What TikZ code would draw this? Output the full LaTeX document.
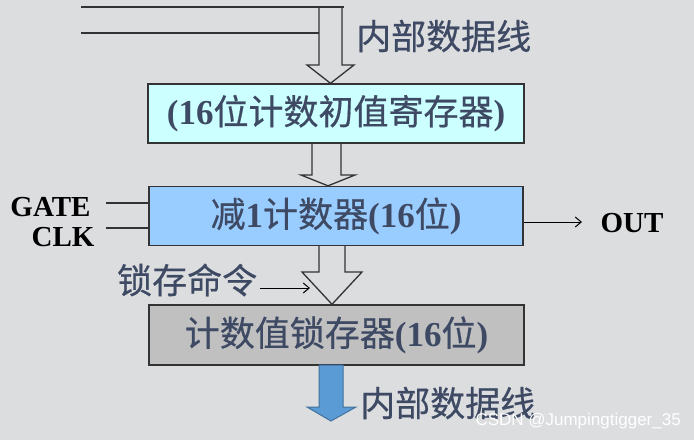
\documentclass[tikz,border=0pt]{standalone}
\usepackage{fontspec}
\setmainfont{Liberation Serif}
\newfontfamily\cjk[FakeBold=0.5]{Noto Sans CJK SC}
\newfontfamily\wmfont{Liberation Sans}
\usetikzlibrary{arrows.meta,calc}
\definecolor{bgc}{RGB}{220,221,223}
\definecolor{txt}{HTML}{3E4A64}
\definecolor{linec}{HTML}{333333}
\definecolor{boxa}{HTML}{CCFFFF}
\definecolor{boxb}{HTML}{99CCFF}
\definecolor{boxc}{HTML}{C0C0C0}
\definecolor{bluefill}{HTML}{5B9BD5}
\definecolor{blueline}{HTML}{41719C}
\newcommand\zh[1]{{\cjk\mdseries #1}}
\newcommand\bigtxt{\fontsize{35}{40}\selectfont\bfseries}
\newcommand\sigtxt{\fontsize{29}{34}\selectfont\bfseries}
\tikzset{
  regbox/.style={draw=linec, line width=1.4pt, inner sep=0pt, text=txt, font=\bigtxt},
  hollow/.style={draw=linec, line width=1.3pt, line join=miter},
  wire/.style={draw=linec, line width=1.3pt},
  sig/.style={text=black, font=\sigtxt, inner sep=0pt},
  lbl/.style={text=txt, font=\bigtxt, inner sep=0pt},
  thinarrow/.style={draw=black, line width=1pt, -{Straight Barb[length=6pt,width=10pt]}}
}
\begin{document}
\begin{tikzpicture}[x=1pt,y=-1pt]
\useasboundingbox (0,0) rectangle (694,440);
\fill[bgc] (0,0) rectangle (694,440);

% boxes
\node[regbox, fill=boxa, minimum width=376pt, minimum height=59pt] (init) at (336,113.5)
  {(16\zh{位计数初值寄存器})};
\node[regbox, fill=boxb, minimum width=374pt, minimum height=59pt] (cnt) at (336,216)
  {\zh{减}1\zh{计数器}(16\zh{位})};
\node[regbox, fill=boxc, minimum width=375pt, minimum height=60pt] (latch) at (336.5,335)
  {\zh{计数值锁存器}(16\zh{位})};

% top bus lines and hollow arrow into init
\coordinate (busA) at (81,7);
\coordinate (busB) at (81,33);
\draw[wire] (busA) -- (344,7);
\draw[wire] (busB) -- (319,33);
\draw[hollow] (319,7) -- (319,65) -- (307,65) -- (init.north -| 330.5,0) -- (354,65) -- (342,65) -- (342,7);
\node[lbl, anchor=west] (topbus) at (356,36) {\zh{内部数据线}};

% hollow arrow init -> cnt
\draw[hollow] (312,143) -- (312,175) -- (301,175) -- (cnt.north -| 328,0) -- (355,175) -- (341,175) -- (341,143);

% hollow arrow cnt -> latch
\draw[hollow] (319,246) -- (319,272) -- (302,272) -- (latch.north -| 332,0) -- (362,272) -- (345,272) -- (345,246);

% latch command
\node[lbl, anchor=west] (cmd) at (117,280) {\zh{锁存命令}};
\coordinate (cmdtip) at (310,288);
\draw[thinarrow] (cmd.east |- cmdtip) ++(3,0) -- (cmdtip);

% GATE / CLK
\node[sig] (gate) at (50.5,207) {GATE};
\node[sig] (clk) at (63,237) {CLK};
\coordinate (gin) at (106,203);
\coordinate (cin) at (106,228);
\draw[wire] (gin) -- (gin -| cnt.west);
\draw[wire] (cin) -- (cin -| cnt.west);

% OUT
\node[sig] (out) at (632,223) {OUT};
\coordinate (outtip) at (582,222);
\draw[thinarrow] (cnt.east |- outtip) -- (outtip);

% blue output arrow
\draw[draw=blueline, fill=bluefill, line width=1pt] (319,365) -- (319,407) -- (307,407) -- (331,421) -- (356,407) -- (343,407) -- (343,365) -- cycle;
\node[lbl, anchor=west] (botbus) at (360,403) {\zh{内部数据线}};

% watermark
\node[text=white, font=\wmfont\fontsize{17}{20}\selectfont, inner sep=0pt, anchor=east] (wm) at (681,421) {CSDN @Jumpingtigger\_35};
\end{tikzpicture}
\end{document}
